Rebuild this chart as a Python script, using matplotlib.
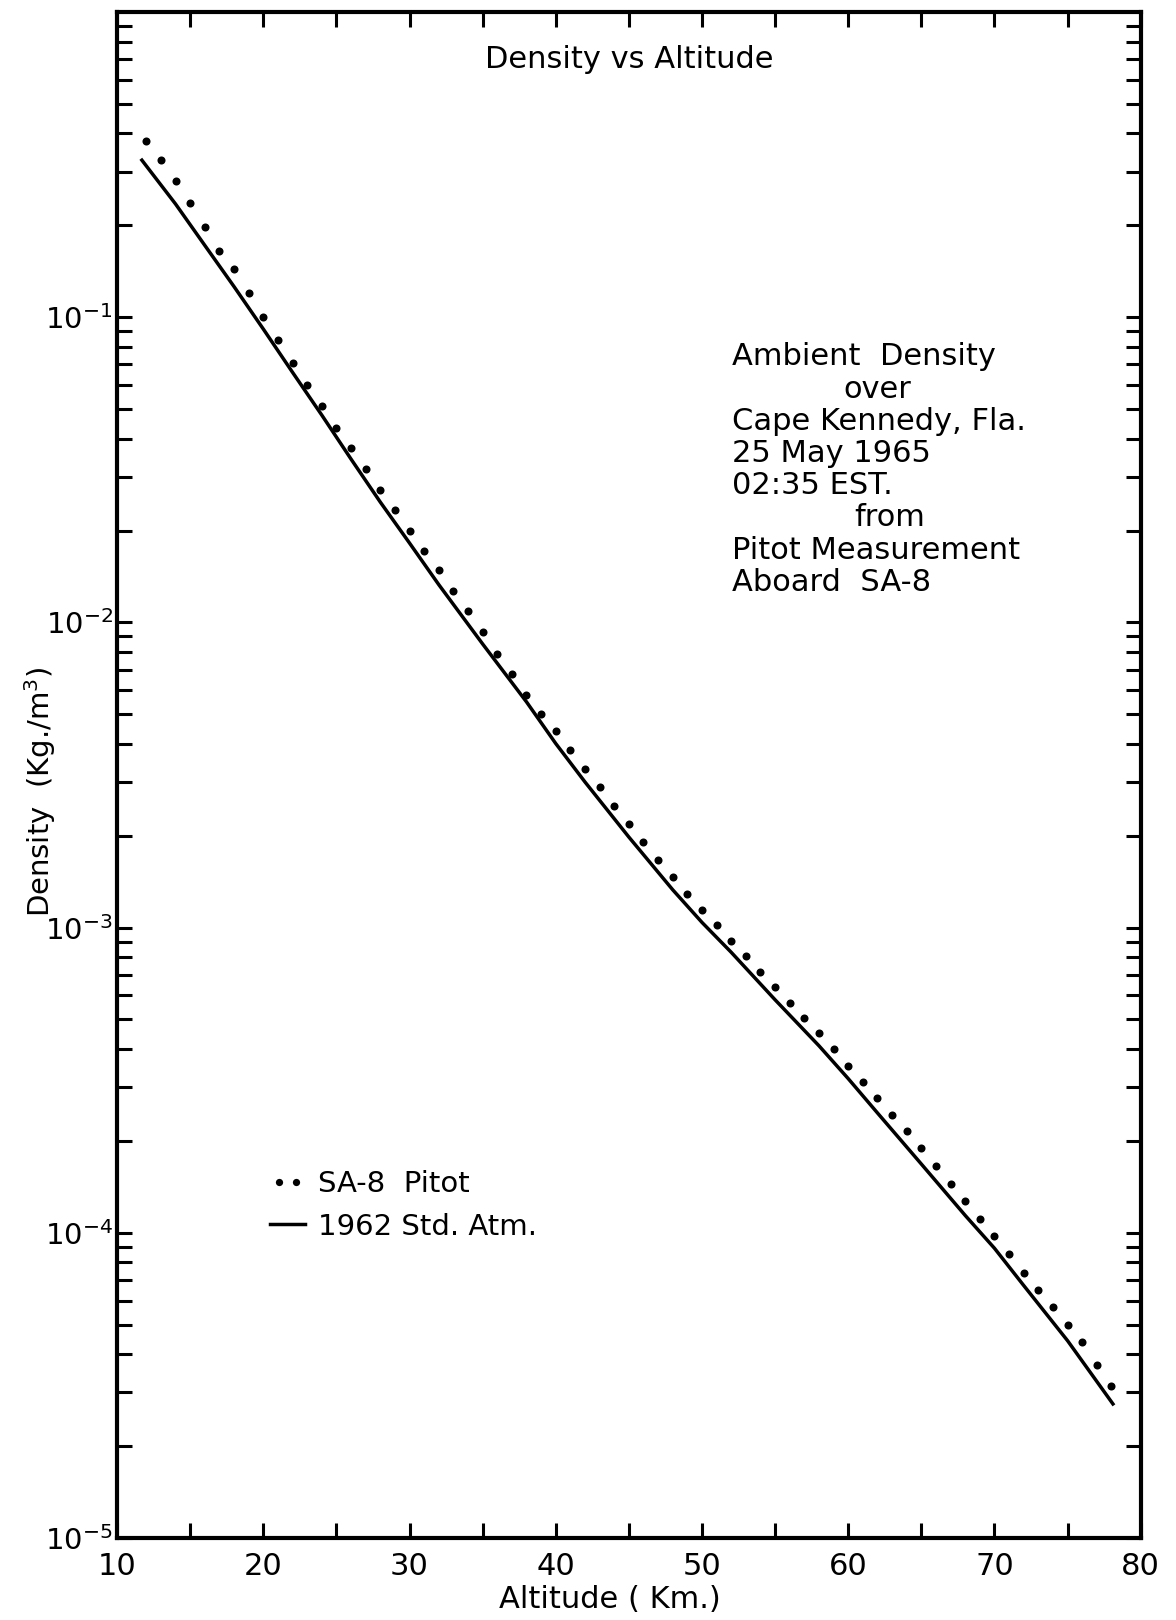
import numpy as np
import matplotlib
matplotlib.use("Agg")
import matplotlib.pyplot as plt
from matplotlib.ticker import MultipleLocator, LogLocator, NullFormatter
from matplotlib.legend_handler import HandlerLine2D

plt.rcParams['font.family'] = ['DejaVu Sans']
plt.rcParams['mathtext.default'] = 'regular'

# SA-8 pitot measurement, one point per km
pitot_alt = list(range(12, 79))
pitot_rho = [0.378, 0.327, 0.279, 0.237, 0.197, 0.165, 0.144, 0.120, 0.100, 0.084,
             0.071, 0.060, 0.051, 0.0435, 0.0372, 0.0318, 0.0272, 0.0233, 0.0200, 0.0172,
             0.0148, 0.0127, 0.0109, 0.0093, 0.0079, 0.0068, 0.0058, 0.0050, 0.00440, 0.00382,
             0.00331, 0.00288, 0.00251, 0.00219, 0.00191, 0.00167, 0.00147, 0.00129, 0.00114, 0.00102,
             0.000905, 0.000805, 0.000715, 0.000637, 0.000568, 0.000507, 0.000450, 0.000399, 0.000353, 0.000313,
             0.000277, 0.000244, 0.000215, 0.000189, 0.000166, 0.000145, 0.000127, 0.000111, 0.0000975, 0.0000850,
             0.0000740, 0.0000650, 0.0000570, 0.0000500, 0.0000440, 0.0000370, 0.0000315]

# 1962 standard atmosphere
std_alt = [11.7, 14, 16, 18, 20, 22, 24, 26, 28, 30, 32, 35, 38, 40, 42, 45, 48, 50,
           52, 55, 58, 60, 62, 65, 68, 70, 72, 75, 78.1]
std_rho = [0.327, 0.235, 0.172, 0.126, 0.0915, 0.0660, 0.0478, 0.0343, 0.0248, 0.0182,
           0.0133, 0.00850, 0.00549, 0.00401, 0.00300, 0.00198, 0.00133, 0.00104,
           0.00083, 0.00058, 0.00041, 0.00032, 0.000247, 0.000168, 0.000114, 0.0000890,
           0.0000672, 0.0000443, 0.0000275]

note_lines = ["Ambient  Density", "over", "Cape Kennedy, Fla.", "25 May 1965",
              "02:35 EST.", "from", "Pitot Measurement", "Aboard  SA-8"]
note_indent = [0, 0.109, 0, 0, 0, 0.119, 0, 0]

fig = plt.figure(figsize=(11.76, 16.2), dpi=100)
ax = fig.add_axes([0.0995, 0.0506, 0.8705, 0.942])

ax.plot(pitot_alt, pitot_rho, 'o', color='black', ms=5.8, mec='none', label='SA-8  Pitot')
std_line, = ax.plot(std_alt, std_rho, '-', color='black', lw=2.5, label='1962 Std. Atm.')

ax.set_yscale('log')
ax.set_xlim(10, 80)
ax.set_ylim(1e-5, 1.0)

ax.xaxis.set_major_locator(MultipleLocator(10))
ax.xaxis.set_minor_locator(MultipleLocator(5))
ax.yaxis.set_minor_locator(LogLocator(base=10, subs=np.arange(2, 10), numticks=20))
ax.yaxis.set_minor_formatter(NullFormatter())
ax.set_yticks([1e-5, 1e-4, 1e-3, 1e-2, 1e-1])
ax.set_yticklabels(['$10^{-5}$', '$10^{-4}$', '$10^{-3}$', '$10^{-2}$', '$10^{-1}$'])
ax.set_xticks(range(10, 81, 10))

ax.tick_params(which='both', direction='in', top=True, right=True, length=11, width=2.2)
ax.tick_params(axis='x', labelsize=22, pad=10)
ax.tick_params(axis='y', labelsize=21, pad=3)
for s in ax.spines.values():
    s.set_linewidth(3)

ax.set_xlabel('Altitude ( Km.)', fontsize=22)
ax.xaxis.set_label_coords(0.481, -0.031)
ax.set_ylabel('Density  (Kg./m$^3$)', fontsize=21)
ax.yaxis.set_label_coords(-0.058, 0.489)

ax.text(0.5, 0.969, 'Density vs Altitude', transform=ax.transAxes,
        ha='center', va='center', fontsize=22)

y0 = 0.774
for i, line in enumerate(note_lines):
    ax.text(0.601 + note_indent[i], y0 - i * 0.0211, line,
            transform=ax.transAxes, ha='left', va='center', fontsize=22)

ax.legend(loc='center left', bbox_to_anchor=(0.135, 0.218), frameon=False,
          fontsize=21, numpoints=2, handlelength=1.2, handletextpad=0.45,
          labelspacing=0.5, borderpad=0, markerscale=0.9,
          handler_map={std_line: HandlerLine2D(numpoints=1)})

fig.savefig('out.png', dpi=100)
